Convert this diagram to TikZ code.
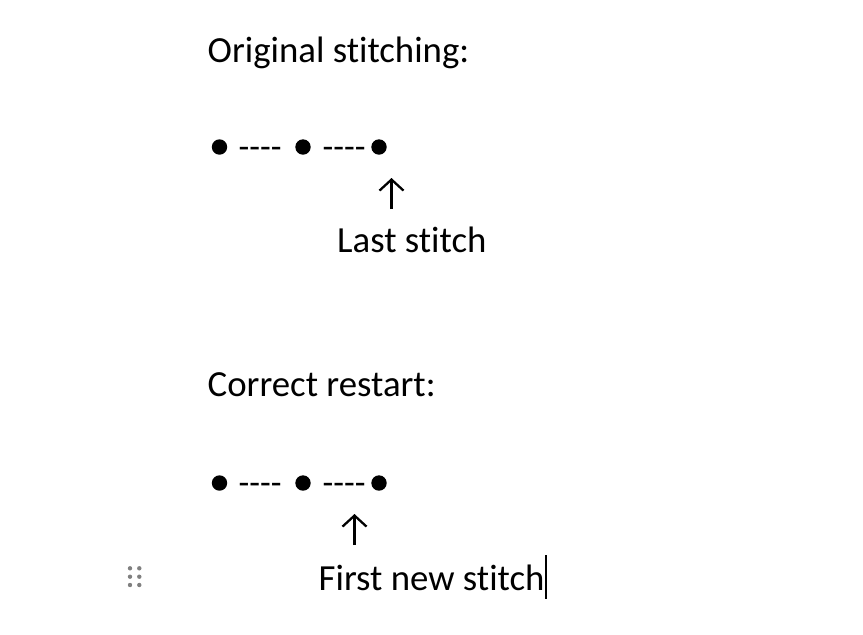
\documentclass[tikz,border=0pt]{standalone}
\usepackage{fontspec}
\setmainfont{Carlito}[Ligatures={TeXOff,NoCommon}]
\usetikzlibrary{arrows.meta}
\begin{document}
\begin{tikzpicture}[x=1pt,y=-1pt,
  txt/.style={anchor=base west,inner sep=0pt,font=\fontsize{36.8}{44}\selectfont},
  dashtxt/.style={anchor=base west,inner sep=0pt,font=\fontsize{35}{42}\selectfont},
  stitchdot/.style={circle,fill=black,minimum size=15.4pt,inner sep=0pt},
  handle/.style={circle,fill=black!50,minimum size=4.4pt,inner sep=0pt},
  pointer/.style={line width=2.3pt,-{Straight Barb[length=11pt,width=24pt,line width=2.3pt]}}]
\useasboundingbox (0,0) rectangle (863,635);
% Section 1
\node[txt] (t1) at (207.5,62) {Original stitching:};
\node[stitchdot] (d11) at (219.5,147) {};
\node[dashtxt] (s11) at (238.5,158) {----};
\node[stitchdot] (d12) at (303,147) {};
\node[dashtxt] (s12) at (322.5,158) {----};
\node[stitchdot] (d13) at (379,147) {};
\coordinate (a1s) at (391.5,209);
\coordinate (a1e) at (391.5,178);
\draw[pointer] (a1s) -- (a1e);
\node[txt] (l1) at (337,252.7) {Last stitch};
% Section 2
\node[txt] (t2) at (207.5,396) {Correct restart:};
\node[stitchdot] (d21) at (219.5,483) {};
\node[dashtxt] (s21) at (238.5,494) {----};
\node[stitchdot] (d22) at (303,483) {};
\node[dashtxt] (s22) at (322.5,494) {----};
\node[stitchdot] (d23) at (379,483) {};
\coordinate (a2s) at (354.5,545);
\coordinate (a2e) at (354.5,514);
\draw[pointer] (a2s) -- (a2e);
\node[txt] (l2) at (318.5,590) {First new stitch};
% cursor
\coordinate (c1) at (546,555);
\coordinate (c2) at (546,599);
\draw[line width=1.5pt] (c1) -- (c2);
% drag handle
\foreach \yy [count=\i] in {568.3,576.7,585}{
  \node[handle] (hl\i) at (130,\yy) {};
  \node[handle] (hr\i) at (139.3,\yy) {};
}
\end{tikzpicture}
\end{document}
